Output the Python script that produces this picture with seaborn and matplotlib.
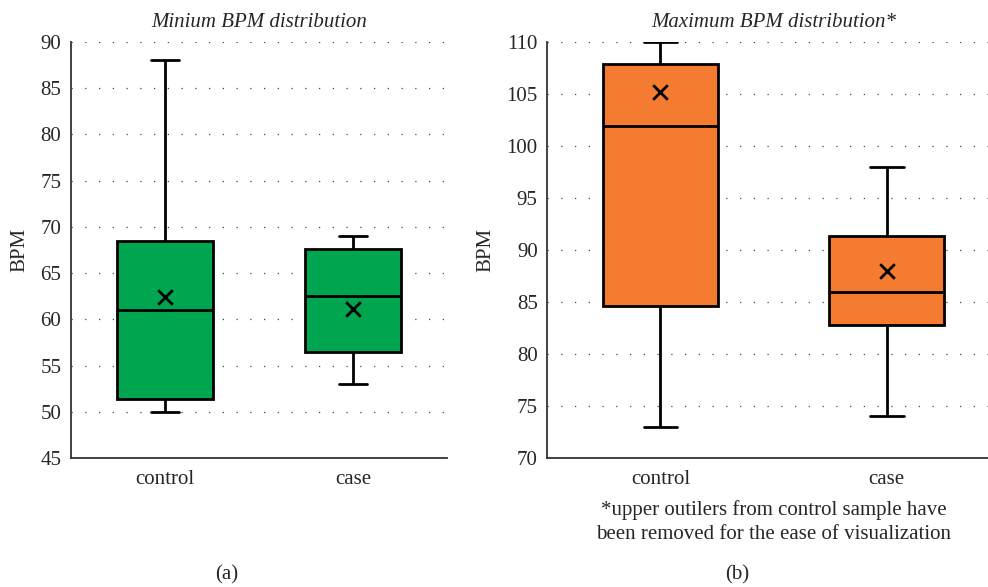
import matplotlib
matplotlib.use("Agg")
import matplotlib.pyplot as plt
import pandas as pd
import seaborn as sns

# group labels
groups = ["control", "case"]

# five-number summaries: min, q1, median, q3, max
min_control = [50.0, 51.4, 61.0, 68.5, 88.0]
min_case = [53.0, 56.5, 62.5, 67.6, 69.0]
max_control = [73.0, 84.6, 101.9, 107.9, 110.0]
max_case = [74.0, 82.8, 86.0, 91.3, 98.0]

# means (the x markers)
min_means = [62.4, 61.1]
max_means = [105.2, 88.0]

green = "#00A550"
orange = "#F47B30"

sns.set_style("white")
plt.rcParams["font.family"] = ["Liberation Serif", "DejaVu Serif"]
FS = 15


def make_df(control, case):
    return pd.DataFrame({
        "group": ["control"] * len(control) + ["case"] * len(case),
        "BPM": control + case,
    })


def draw_panel(ax, df, means, color, title, ylim, yticks):
    line = dict(color="black", linewidth=2.0)
    sns.boxplot(x="group", y="BPM", data=df, order=groups, ax=ax,
                color=color, saturation=1, width=0.51, whis=(0, 100),
                linewidth=2.0, linecolor="black", capwidths=0.15,
                boxprops=dict(edgecolor="black", linewidth=2.0),
                whiskerprops=line, capprops=line, medianprops=line)
    sns.scatterplot(x=groups, y=means, ax=ax, marker="x", s=110,
                    color="black", linewidth=2.0, zorder=5)

    # set the chart title and labels
    ax.set_title(title, fontstyle="italic", fontsize=FS, pad=11)
    ax.set_xlabel("")
    ax.set_ylabel("BPM", fontsize=FS, labelpad=8)
    ax.set_ylim(*ylim)
    ax.set_yticks(yticks)
    ax.set_xlim(-0.5, 1.5)
    ax.tick_params(axis="both", length=0, labelsize=FS)
    ax.tick_params(axis="y", pad=7)
    ax.tick_params(axis="x", pad=9)

    ax.set_axisbelow(True)
    ax.yaxis.grid(True, color="#444444", linestyle=(0, (1, 10)), linewidth=0.9)
    for side in ["top", "right"]:
        ax.spines[side].set_visible(False)
    for side in ["left", "bottom"]:
        ax.spines[side].set_color("#333333")
        ax.spines[side].set_linewidth(1.3)


fig = plt.figure(figsize=(9.88, 5.87), dpi=100)
ax1 = fig.add_axes([0.0719, 0.2198, 0.3806, 0.7087])
ax2 = fig.add_axes([0.554, 0.2198, 0.458, 0.7087])

draw_panel(ax1, make_df(min_control, min_case), min_means, green,
           "Minium BPM distribution", (45, 90), range(45, 91, 5))
draw_panel(ax2, make_df(max_control, max_case), max_means, orange,
           "Maximum BPM distribution*", (70, 110), range(70, 111, 5))

fig.text(774 / 988, 1 - 522 / 587,
         "*upper outilers from control sample have\nbeen removed for the ease of visualization",
         ha="center", va="center", fontsize=FS, linespacing=1.3)
fig.text(227 / 988, 1 - 575 / 587, "(a)", ha="center", va="center", fontsize=FS)
fig.text(737 / 988, 1 - 575 / 587, "(b)", ha="center", va="center", fontsize=FS)

plt.savefig("out.png", dpi=100)
